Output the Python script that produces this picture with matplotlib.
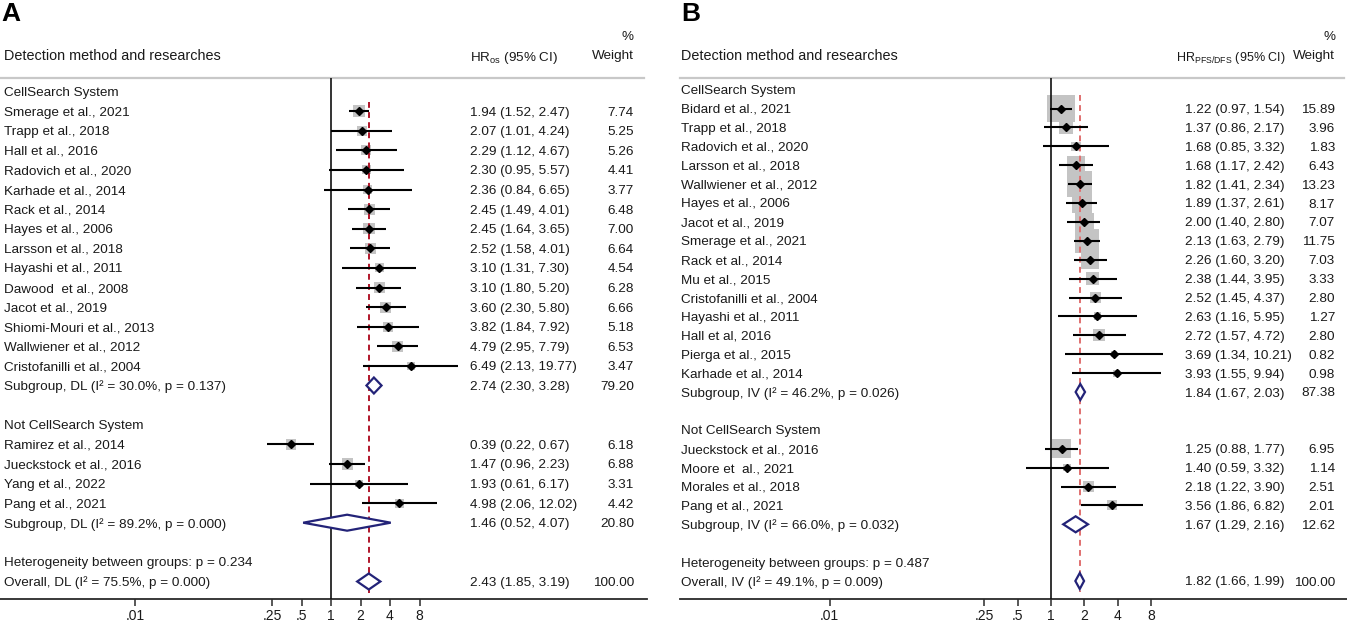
import matplotlib
matplotlib.use("Agg")
import matplotlib.pyplot as plt
import matplotlib.transforms as mtransforms
from matplotlib.ticker import NullLocator, FixedLocator, FixedFormatter
import numpy as np

plt.rcParams['font.family'] = ['Liberation Sans', 'DejaVu Sans']
plt.rcParams['mathtext.fontset'] = 'custom'
plt.rcParams['mathtext.rm'] = 'Liberation Sans'
plt.rcParams['mathtext.it'] = 'Liberation Sans:italic'
plt.rcParams['mathtext.bf'] = 'Liberation Sans:bold'

# ---------------- Panel A data (OS) ----------------
a_g1_title = "CellSearch System"
a_g1_names = ["Smerage et al., 2021", "Trapp et al., 2018", "Hall et al., 2016", "Radovich et al., 2020",
              "Karhade et al., 2014", "Rack et al., 2014", "Hayes et al., 2006", "Larsson et al., 2018",
              "Hayashi et al., 2011", "Dawood  et al., 2008", "Jacot et al., 2019", "Shiomi-Mouri et al., 2013",
              "Wallwiener et al., 2012", "Cristofanilli et al., 2004"]
a_g1_hr = [1.94, 2.07, 2.29, 2.30, 2.36, 2.45, 2.45, 2.52, 3.10, 3.10, 3.60, 3.82, 4.79, 6.49]
a_g1_lo = [1.52, 1.01, 1.12, 0.95, 0.84, 1.49, 1.64, 1.58, 1.31, 1.80, 2.30, 1.84, 2.95, 2.13]
a_g1_hi = [2.47, 4.24, 4.67, 5.57, 6.65, 4.01, 3.65, 4.01, 7.30, 5.20, 5.80, 7.92, 7.79, 19.77]
a_g1_w = [7.74, 5.25, 5.26, 4.41, 3.77, 6.48, 7.00, 6.64, 4.54, 6.28, 6.66, 5.18, 6.53, 3.47]
a_g1_sub = ["Subgroup, DL (I² = 30.0%, p = 0.137)", 2.74, 2.30, 3.28, 79.20]

a_g2_title = "Not CellSearch System"
a_g2_names = ["Ramirez et al., 2014", "Jueckstock et al., 2016", "Yang et al., 2022", "Pang et al., 2021"]
a_g2_hr = [0.39, 1.47, 1.93, 4.98]
a_g2_lo = [0.22, 0.96, 0.61, 2.06]
a_g2_hi = [0.67, 2.23, 6.17, 12.02]
a_g2_w = [6.18, 6.88, 3.31, 4.42]
a_g2_sub = ["Subgroup, DL (I² = 89.2%, p = 0.000)", 1.46, 0.52, 4.07, 20.80]
a_het = "Heterogeneity between groups: p = 0.234"
a_overall = ["Overall, DL (I² = 75.5%, p = 0.000)", 2.43, 1.85, 3.19, 100.00]

# ---------------- Panel B data (PFS/DFS) ----------------
b_g1_title = "CellSearch System"
b_g1_names = ["Bidard et al., 2021", "Trapp et al., 2018", "Radovich et al., 2020", "Larsson et al., 2018",
              "Wallwiener et al., 2012", "Hayes et al., 2006", "Jacot et al., 2019", "Smerage et al., 2021",
              "Rack et al., 2014", "Mu et al., 2015", "Cristofanilli et al., 2004", "Hayashi et al., 2011",
              "Hall et al, 2016", "Pierga et al., 2015", "Karhade et al., 2014"]
b_g1_hr = [1.22, 1.37, 1.68, 1.68, 1.82, 1.89, 2.00, 2.13, 2.26, 2.38, 2.52, 2.63, 2.72, 3.69, 3.93]
b_g1_lo = [0.97, 0.86, 0.85, 1.17, 1.41, 1.37, 1.40, 1.63, 1.60, 1.44, 1.45, 1.16, 1.57, 1.34, 1.55]
b_g1_hi = [1.54, 2.17, 3.32, 2.42, 2.34, 2.61, 2.80, 2.79, 3.20, 3.95, 4.37, 5.95, 4.72, 10.21, 9.94]
b_g1_w = [15.89, 3.96, 1.83, 6.43, 13.23, 8.17, 7.07, 11.75, 7.03, 3.33, 2.80, 1.27, 2.80, 0.82, 0.98]
b_g1_sub = ["Subgroup, IV (I² = 46.2%, p = 0.026)", 1.84, 1.67, 2.03, 87.38]

b_g2_title = "Not CellSearch System"
b_g2_names = ["Jueckstock et al., 2016", "Moore et  al., 2021", "Morales et al., 2018", "Pang et al., 2021"]
b_g2_hr = [1.25, 1.40, 2.18, 3.56]
b_g2_lo = [0.88, 0.59, 1.22, 1.86]
b_g2_hi = [1.77, 3.32, 3.90, 6.82]
b_g2_w = [6.95, 1.14, 2.51, 2.01]
b_g2_sub = ["Subgroup, IV (I² = 66.0%, p = 0.032)", 1.67, 1.29, 2.16, 12.62]
b_het = "Heterogeneity between groups: p = 0.487"
b_overall = ["Overall, IV (I² = 49.1%, p = 0.009)", 1.82, 1.66, 1.99, 100.00]

tick_vals = [0.01, 0.25, 0.5, 1, 2, 4, 8]
tick_labels = [".01", ".25", ".5", "1", "2", "4", "8"]

# ---------------- layout ----------------
W, H = 1347, 623
fig = plt.figure(figsize=(W / 100, H / 100), dpi=100)
TXT = '#1a1a1a'
NAVY = '#232378'
LAB_FS = 9.7
HEAD_FS = 10.4
NUM_FS = 9.7
VA = 'center_baseline'


def px_axes(left, right, top, bottom):
    return fig.add_axes([left / W, 1 - bottom / H, (right - left) / W, (bottom - top) / H])


def fmt(hr, lo, hi):
    return f"{hr:.2f} ({lo:.2f}, {hi:.2f})"


def panel(ax, left_px, right_px, one_px, dbl_px, y0, dy, groups, het, overall, hr_title, hr_head_fs,
          hr_col_px, hr_head_px, w_px, box_k, red, red_top, letter, lab_px):
    width_px = right_px - left_px
    fx = lambda p: (p - left_px) / width_px
    ax.set_xscale('log', base=2)
    ax.set_xlim(2 ** ((left_px - one_px) / dbl_px), 2 ** ((right_px - one_px) / dbl_px))
    ax.set_ylim(599, 0)
    for s in ['top', 'left', 'right']:
        ax.spines[s].set_visible(False)
    ax.spines['bottom'].set_color('#2a2a2a')
    ax.spines['bottom'].set_linewidth(1.3)
    ax.xaxis.set_major_locator(FixedLocator(tick_vals))
    ax.xaxis.set_major_formatter(FixedFormatter(tick_labels))
    ax.xaxis.set_minor_locator(NullLocator())
    ax.tick_params(axis='x', length=5, width=1.1, color='#2a2a2a', pad=2, labelsize=10, labelcolor=TXT)
    ax.set_yticks([])
    ax.patch.set_alpha(0)
    tr = mtransforms.blended_transform_factory(ax.transAxes, ax.transData)

    def txt(xp, y, s, fs, ha='left'):
        ax.text(fx(xp), y, s, transform=tr, fontsize=fs, ha=ha, va=VA, color=TXT)

    # headers
    ax.text(fx(left_px + 1), 14, letter, transform=tr, fontsize=19, fontweight='bold',
            ha='left', va='center', color='black')
    txt(lab_px, 55, "Detection method and researches", HEAD_FS)
    txt(hr_head_px, 55, hr_title, hr_head_fs)
    txt(w_px, 35, "%", NUM_FS, 'right')
    txt(w_px, 55, "Weight", NUM_FS, 'right')
    ax.plot([0, fx(right_px - 3)], [78, 78], transform=tr, color='#c8c8c8', lw=1.6, clip_on=False)

    row = 0

    def y_of(r):
        return y0 + r * dy

    def diamond(y, est, lo, hi):
        h = 8
        ax.fill([lo, est, hi, est, lo], [y, y - h, y, y + h, y], facecolor='white',
                edgecolor=NAVY, lw=1.6, zorder=6)

    for title, names, hr, lo, hi, w, sub in groups:
        txt(lab_px, y_of(row), title, LAB_FS)
        row += 1
        ys = [y_of(row + i) for i in range(len(names))]
        sizes = [(box_k * np.sqrt(wi) * 0.72) ** 2 for wi in w]
        ax.scatter(hr, ys, s=sizes, marker='s', color='#c4c4c4', edgecolors='none', zorder=2)
        ax.hlines(ys, lo, hi, color='black', lw=1.5, zorder=4)
        ax.plot(hr, ys, linestyle='none', marker='D', ms=3.6, color='black', zorder=5)
        for i, nm in enumerate(names):
            txt(lab_px, ys[i], nm, LAB_FS)
            txt(hr_col_px, ys[i], fmt(hr[i], lo[i], hi[i]), NUM_FS)
            txt(w_px, ys[i], f"{w[i]:.2f}", NUM_FS, 'right')
        row += len(names)
        ys_sub = y_of(row)
        txt(lab_px, ys_sub, sub[0], LAB_FS)
        txt(hr_col_px, ys_sub, fmt(sub[1], sub[2], sub[3]), NUM_FS)
        txt(w_px, ys_sub, f"{sub[4]:.2f}", NUM_FS, 'right')
        diamond(ys_sub, sub[1], sub[2], sub[3])
        row += 2

    txt(lab_px, y_of(row), het, LAB_FS)
    row += 1
    yo = y_of(row)
    txt(lab_px, yo, overall[0], LAB_FS)
    txt(hr_col_px, yo, fmt(overall[1], overall[2], overall[3]), NUM_FS)
    txt(w_px, yo, f"{overall[4]:.2f}", NUM_FS, 'right')
    diamond(yo, overall[1], overall[2], overall[3])

    # reference lines
    ax.vlines(1, 78, 599, color='#111111', lw=1.2, zorder=3)
    ax.vlines(overall[1], red_top, yo + 11, color=red, lw=1.4, linestyles=(0, (3, 2.2)), zorder=3)


axA = px_axes(0, 647, 0, 599)
panel(axA, 0, 647, 331, 29.5, 91.5, 19.6,
      [(a_g1_title, a_g1_names, a_g1_hr, a_g1_lo, a_g1_hi, a_g1_w, a_g1_sub),
       (a_g2_title, a_g2_names, a_g2_hr, a_g2_lo, a_g2_hi, a_g2_w, a_g2_sub)],
      a_het, a_overall, r"HR$_{\mathrm{os}}$ (95% CI)", NUM_FS, 470, 470, 634, 4.3, '#b0162a', 102, "A", 4)

axB = px_axes(680, 1347, 0, 599)
panel(axB, 680, 1347, 1051, 33.3, 89.6, 18.9,
      [(b_g1_title, b_g1_names, b_g1_hr, b_g1_lo, b_g1_hi, b_g1_w, b_g1_sub),
       (b_g2_title, b_g2_names, b_g2_hr, b_g2_lo, b_g2_hi, b_g2_w, b_g2_sub)],
      b_het, b_overall, r"HR$_{\mathrm{PFS/DFS}}$ (95% CI)", 9.0, 1185, 1176, 1335, 7.0, '#e07070', 95, "B",
      681)

fig.savefig("out.png", dpi=100, facecolor='white')
